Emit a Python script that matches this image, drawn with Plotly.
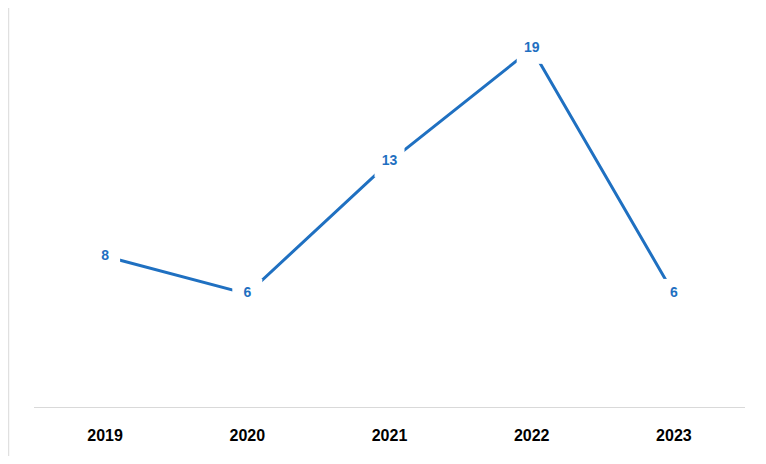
import plotly.graph_objects as go

years = ["2019", "2020", "2021", "2022", "2023"]
values = [8, 6, 13, 19, 6]
color = "#1F70C1"

fig = go.Figure(go.Scatter(
    x=years, y=values, mode="lines+markers+text",
    line=dict(color=color, width=3),
    marker=dict(symbol="square", size=30, color="white", line=dict(width=0)),
    text=[f"<b>{v}</b>" for v in values], textposition="middle center",
    textfont=dict(family="Liberation Sans", size=14, color=color),
    hoverinfo="skip"))
fig.add_shape(type="rect", xref="paper", yref="paper",
              x0=-0.0356, x1=1.0284, y0=-0.1413, y1=1.0613,
              line=dict(color="#D9D9D9", width=1))
fig.update_layout(
    width=750, height=448, margin=dict(l=26, r=13, t=22, b=43),
    plot_bgcolor="white", paper_bgcolor="white", showlegend=False,
    xaxis=dict(type="category", range=[-0.5, 4.5], showgrid=False,
               showline=True, linecolor="#D9D9D9", linewidth=1, ticks="",
               tickfont=dict(family="Liberation Sans", size=16, color="black"),
               ticklabelstandoff=14, tickprefix="<b>", ticksuffix="</b>"),
    yaxis=dict(range=[0, 20], visible=False),
)
fig.write_html("out.html")
